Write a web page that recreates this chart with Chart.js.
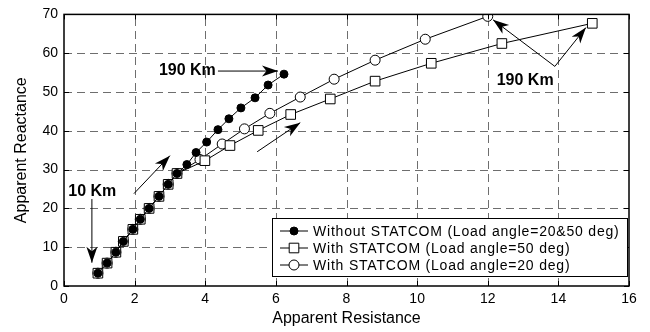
<!DOCTYPE html>
<html>
<head>
<meta charset="utf-8">
<script src="https://cdn.jsdelivr.net/npm/chart.js@4.4.0/dist/chart.umd.min.js"></script>
<style>
  html, body { margin: 0; padding: 0; background: #fff; }
  #wrap { width: 650px; height: 332px; }
</style>
</head>
<body>
<div id="wrap"><canvas id="chart" width="650" height="332"></canvas></div>
<script>
/* ─── Data ─── */
var distKm = [10, 20, 30, 40, 50, 60, 70, 80, 90, 100, 110, 120, 130, 140, 150, 160, 170, 180, 190];

var noStatR = [0.96, 1.22, 1.47, 1.68, 1.95, 2.16, 2.41, 2.69, 2.95, 3.2, 3.48, 3.74, 4.04, 4.36, 4.67, 5.01, 5.41, 5.78, 6.23];
var noStatX = [3.3, 5.9, 8.7, 11.5, 14.6, 17.2, 20.0, 23.1, 26.2, 29.0, 31.3, 34.4, 37.1, 40.3, 43.1, 45.9, 48.5, 51.8, 54.6];

var stat50R = [0.96, 1.22, 1.47, 1.68, 1.95, 2.16, 2.41, 2.69, 2.95, 3.2, 3.99, 4.7, 5.5, 6.42, 7.54, 8.81, 10.4, 12.4, 14.96];
var stat50X = [3.3, 5.9, 8.7, 11.5, 14.6, 17.2, 20.0, 23.1, 26.2, 29.0, 32.3, 36.2, 40.1, 44.2, 48.2, 52.8, 57.4, 62.5, 67.7];

var stat20R = [0.96, 1.22, 1.47, 1.68, 1.95, 2.16, 2.41, 2.69, 2.95, 3.2, 3.85, 4.48, 5.11, 5.83, 6.69, 7.65, 8.81, 10.23, 12.0];
var stat20X = [3.3, 5.9, 8.7, 11.5, 14.6, 17.2, 20.0, 23.1, 26.2, 29.0, 32.6, 36.6, 40.5, 44.5, 48.7, 53.3, 58.2, 63.6, 69.5];

var seriesLabels = [
  'Without STATCOM (Load angle=20&50 deg)',
  'With STATCOM (Load angle=50 deg)',
  'With STATCOM (Load angle=20 deg)'
];

var xTicks = [0, 2, 4, 6, 8, 10, 12, 14, 16];
var yTicks = [0, 10, 20, 30, 40, 50, 60, 70];

function toPoints(xs, ys) {
  return xs.map(function (v, i) { return { x: v, y: ys[i] }; });
}

// ─── Arrow helper ───
function arrow(ctx, x0, y0, x1, y1, head) {
  ctx.beginPath();
  ctx.moveTo(x0, y0);
  ctx.lineTo(x1, y1);
  ctx.stroke();
  if (!head) return;
  var a = Math.atan2(y1 - y0, x1 - x0);
  var L = 16, W = 5.5;
  ctx.save();
  ctx.translate(x1, y1);
  ctx.rotate(a);
  ctx.beginPath();
  ctx.moveTo(0, 0);
  ctx.lineTo(-L, -W);
  ctx.lineTo(-L * 0.72, 0);
  ctx.lineTo(-L, W);
  ctx.closePath();
  ctx.fill();
  ctx.restore();
}

// ─── Dashed grid (MATLAB style), dashes laid out by hand ───
var DASH = 8, GAP = 5;
var gridPlugin = {
  id: 'dashGrid',
  beforeDatasetsDraw: function (chart) {
    var ctx = chart.ctx, a = chart.chartArea;
    var sx = chart.scales.x, sy = chart.scales.y;
    ctx.save();
    ctx.fillStyle = '#6e6e6e';
    xTicks.slice(1, -1).forEach(function (t) {
      var x = Math.round(sx.getPixelForValue(t));
      for (var y = a.bottom; y > a.top; y -= DASH + GAP) {
        var len = Math.min(DASH, y - a.top);
        ctx.fillRect(x, y - len, 1, len);
      }
    });
    yTicks.slice(1, -1).forEach(function (t) {
      var y = Math.round(sy.getPixelForValue(t));
      for (var x = a.left; x < a.right; x += DASH + GAP) {
        var len = Math.min(DASH, a.right - x);
        ctx.fillRect(x, y, len, 1);
      }
    });
    ctx.restore();
  }
};

// ─── Frame, inward ticks, annotations, legend ───
var decorPlugin = {
  id: 'decor',
  afterDatasetsDraw: function (chart) {
    var ctx = chart.ctx, a = chart.chartArea;
    var sx = chart.scales.x, sy = chart.scales.y;
    var px = function (v) { return sx.getPixelForValue(v); };
    var py = function (v) { return sy.getPixelForValue(v); };

    ctx.save();
    ctx.strokeStyle = '#000';
    ctx.lineWidth = 1;

    // inward tick marks on all four sides
    ctx.beginPath();
    xTicks.forEach(function (t) {
      var x = Math.round(px(t)) + 0.5;
      ctx.moveTo(x, a.bottom); ctx.lineTo(x, a.bottom - 5);
      ctx.moveTo(x, a.top); ctx.lineTo(x, a.top + 5);
    });
    yTicks.forEach(function (t) {
      var y = Math.round(py(t)) + 0.5;
      ctx.moveTo(a.left, y); ctx.lineTo(a.left + 5, y);
      ctx.moveTo(a.right, y); ctx.lineTo(a.right - 5, y);
    });
    ctx.stroke();

    // box
    ctx.lineWidth = 1.5;
    ctx.strokeRect(a.left, a.top, a.right - a.left, a.bottom - a.top);

    // annotations
    ctx.lineWidth = 1;
    ctx.fillStyle = '#000';
    ctx.font = 'bold 16px Arial, "Liberation Sans", sans-serif';
    ctx.textBaseline = 'middle';

    ctx.textAlign = 'right';
    ctx.fillText('190 Km', px(4.3), py(55.6));
    arrow(ctx, px(4.36), py(55.4), px(6.06), py(55.4), true);

    ctx.textAlign = 'center';
    ctx.fillText('10 Km', px(0.8), py(24.4));
    arrow(ctx, px(0.79), py(22.4), px(0.79), py(6.0), true);

    arrow(ctx, px(1.98), py(23.8), px(3.0), py(33.6), true);
    arrow(ctx, px(5.47), py(34.6), px(6.69), py(42.1), true);

    ctx.fillText('190 Km', px(13.06), py(53.0));
    arrow(ctx, px(13.9), py(56.6), px(12.15), py(68.6), true);
    arrow(ctx, px(13.9), py(56.6), px(14.78), py(66.6), true);

    // legend box
    var lx = 272, ly = 218, lw = 355, lh = 58;
    ctx.fillStyle = '#fff';
    ctx.fillRect(lx, ly, lw, lh);
    ctx.strokeStyle = '#000';
    ctx.lineWidth = 1;
    ctx.strokeRect(lx + 0.5, ly + 0.5, lw, lh);

    ctx.font = '14px Arial, "Liberation Sans", sans-serif';
    ctx.textAlign = 'left';
    if ('letterSpacing' in ctx) ctx.letterSpacing = '0.8px';
    chart.data.datasets.forEach(function (ds, i) {
      var yy = ly + 13 + i * 17;
      ctx.strokeStyle = '#000';
      ctx.lineWidth = 1;
      ctx.beginPath();
      ctx.moveTo(lx + 8, yy); ctx.lineTo(lx + 36, yy);
      ctx.stroke();
      ctx.fillStyle = ds.pointBackgroundColor;
      ctx.beginPath();
      if (ds.pointStyle === 'rect') {
        var h = ds.pointRadius * Math.SQRT1_2;
        ctx.rect(lx + 22 - h, yy - h, 2 * h, 2 * h);
      } else {
        ctx.arc(lx + 22, yy, ds.pointRadius, 0, Math.PI * 2);
      }
      ctx.fill();
      ctx.stroke();
      ctx.fillStyle = '#000';
      ctx.fillText(ds.label, lx + 41, yy + 1);
    });
    ctx.restore();
  }
};

var tickFont = { family: 'Arial, "Liberation Sans", sans-serif', size: 14 };
var titleFont = { family: 'Arial, "Liberation Sans", sans-serif', size: 16 };

new Chart(document.getElementById('chart'), {
  type: 'scatter',
  data: {
    datasets: [
      {
        label: seriesLabels[0],
        data: toPoints(noStatR, noStatX),
        showLine: true,
        borderColor: '#000',
        borderWidth: 1,
        pointStyle: 'circle',
        pointRadius: 4,
        pointBackgroundColor: '#000',
        pointBorderColor: '#000',
        pointBorderWidth: 1
      },
      {
        label: seriesLabels[1],
        data: toPoints(stat50R, stat50X),
        showLine: true,
        borderColor: '#000',
        borderWidth: 1,
        pointStyle: 'rect',
        pointRadius: 6.8,
        pointBackgroundColor: '#fff',
        pointBorderColor: '#000',
        pointBorderWidth: 1
      },
      {
        label: seriesLabels[2],
        data: toPoints(stat20R, stat20X),
        showLine: true,
        borderColor: '#000',
        borderWidth: 1,
        pointStyle: 'circle',
        pointRadius: 5,
        pointBackgroundColor: '#fff',
        pointBorderColor: '#000',
        pointBorderWidth: 1
      }
    ]
  },
  options: {
    responsive: false,
    animation: false,
    layout: { padding: { top: 13, right: 21, left: 0, bottom: 4 } },
    plugins: { legend: { display: false }, tooltip: { enabled: false } },
    scales: {
      x: {
        type: 'linear', min: 0, max: 16,
        afterFit: function (s) { s.height = 42; },
        afterBuildTicks: function (s) { s.ticks = xTicks.map(function (v) { return { value: v }; }); },
        border: { display: false },
        grid: { display: false, drawTicks: false },
        ticks: { color: '#000', font: tickFont, padding: 5, maxRotation: 0 },
        title: { display: true, text: 'Apparent Resistance', color: '#000', font: titleFont, padding: { top: 0, bottom: 0 } }
      },
      y: {
        type: 'linear', min: 0, max: 70,
        afterFit: function (s) { s.width = 64; },
        afterBuildTicks: function (s) { s.ticks = yTicks.map(function (v) { return { value: v }; }); },
        border: { display: false },
        grid: { display: false, drawTicks: false },
        ticks: { color: '#000', font: tickFont, padding: 6 },
        title: { display: true, text: 'Apparent Reactance', color: '#000', font: titleFont, padding: { top: 12, bottom: 0 } }
      }
    }
  },
  plugins: [gridPlugin, decorPlugin]
});
</script>
</body>
</html>
